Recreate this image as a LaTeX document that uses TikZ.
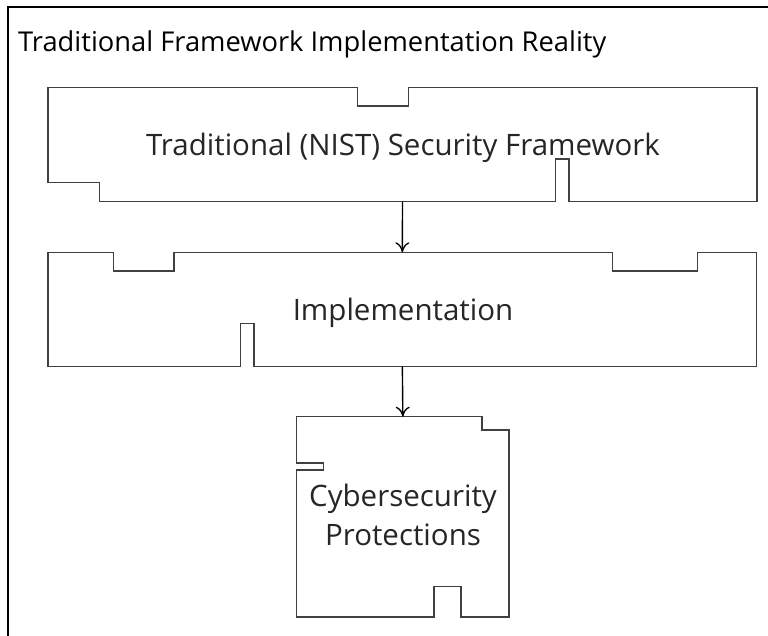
\documentclass[tikz,border=0pt]{standalone}
\usepackage{fontspec}
\setmainfont{Open Sans}
\usetikzlibrary{arrows.meta}
\tikzset{
  outline/.style={draw=black!75, line width=1.1pt},
  frameline/.style={draw=black, line width=2pt},
  conn/.style={draw=black, line width=1.4pt, -{To[length=10pt,width=14pt,line width=1.3pt]}},
  boxarea/.style={inner sep=0pt, outer sep=0pt},
  boxtext/.style={inner sep=0pt, anchor=base, text=black!85, font=\fontsize{29.5}{39}\selectfont, align=center},
  titletext/.style={inner sep=0pt, anchor=base west, text=black, font=\fontsize{27.3}{32}\selectfont}
}
\begin{document}
\begin{tikzpicture}[x=1pt,y=-1pt]
\useasboundingbox (0,0) rectangle (768,635);
% frame (cropped on right and bottom)
\draw[frameline] (7.5,6.5) -- (775,6.5);
\draw[frameline] (7.5,5.5) -- (7.5,645);
\node[titletext] (title) at (18,51) {Traditional Framework Implementation Reality};
% box areas
\node[boxarea, minimum width=709pt, minimum height=114pt] (fwbox) at (402.5,144.7) {};
\node[boxarea, minimum width=708.7pt, minimum height=114.4pt] (implbox) at (402.35,309.5) {};
\node[boxarea, minimum width=212.3pt, minimum height=200.3pt] (protbox) at (402.85,516.85) {};
% outlines
\draw[outline] (48,87.7) -- (357.3,87.7) -- (357.3,106) -- (408.3,106) -- (408.3,87.7) -- (757,87.7) -- (757,201.7) -- (569,201.7) -- (569,159) -- (555.7,159) -- (555.7,201.7) -- (99.3,201.7) -- (99.3,182.7) -- (48,182.7) -- cycle;
\draw[outline] (48,252.3) -- (113.3,252.3) -- (113.3,271) -- (174,271) -- (174,252.3) -- (612.3,252.3) -- (612.3,271) -- (697.7,271) -- (697.7,252.3) -- (756.7,252.3) -- (756.7,366.7) -- (254,366.7) -- (254,323.3) -- (240.7,323.3) -- (240.7,366.7) -- (48,366.7) -- cycle;
\draw[outline] (296.7,416.7) -- (482,416.7) -- (482,430) -- (509,430) -- (509,617) -- (461,617) -- (461,586.7) -- (434,586.7) -- (434,617) -- (296.7,617) -- (296.7,470) -- (323.7,470) -- (323.7,463) -- (296.7,463) -- cycle;
% texts
\node[boxtext] (fwtext) at (403,155) {Traditional (NIST) Security Framework};
\node[boxtext] (impltext) at (403,320) {Implementation};
\node[boxtext, anchor=north] (prottext) at (403,484) {Cybersecurity\\Protections};
% connectors
\draw[conn] (fwbox.south) -- (implbox.north);
\draw[conn] (implbox.south) -- (protbox.north);
\end{tikzpicture}
\end{document}
